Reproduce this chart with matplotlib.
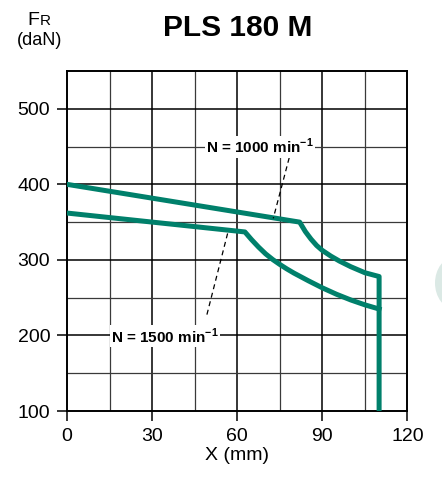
import numpy as np
import matplotlib
matplotlib.use('Agg')
import matplotlib.pyplot as plt
from matplotlib.patches import Ellipse

plt.rcParams['font.family'] = ['Liberation Sans', 'DejaVu Sans']

# N = 1000 min-1 (upper curve)
x_1000 = [0, 82, 84, 86, 88, 90, 93, 96, 100, 105, 110, 110]
y_1000 = [400, 350, 337.5, 327.5, 319, 312.5, 305, 298.5, 291, 283, 278, 100]
# N = 1500 min-1 (lower curve)
x_1500 = [0, 62.7, 65, 67.5, 70, 72.5, 75, 77.5, 80, 85, 90, 95, 100, 105, 110]
y_1500 = [362, 337, 327, 317, 308, 300.5, 294, 288, 282.5, 272.5, 263, 254.5, 247, 240.5, 235]

xticks = [0, 30, 60, 90, 120]
yticks = [100, 200, 300, 400, 500]

teal = '#00806b'

fig = plt.figure(figsize=(4.42, 4.84), dpi=100)
ax = fig.add_axes([0.1516, 0.1508, 0.7703, 0.7025])

ax.set_xlim(0, 120)
ax.set_ylim(100, 550)

# grid
for gx in np.arange(15, 120, 15):
    major = gx % 30 == 0
    ax.axvline(gx, color='black' if major else '#3a3a3a', lw=1.1 if major else 0.9, zorder=1)
for gy in np.arange(150, 550, 50):
    major = gy % 100 == 0
    ax.axhline(gy, color='black' if major else '#3a3a3a', lw=1.1 if major else 0.9, zorder=1)

ax.plot(x_1000, y_1000, color=teal, lw=3.6, solid_joinstyle='round', zorder=3)
ax.plot(x_1500, y_1500, color=teal, lw=3.6, solid_joinstyle='round', zorder=3)

# leader lines
ax.plot([78.3, 72.7], [435, 355], color='black', lw=0.9, ls=(0, (4, 3)), zorder=4)
ax.plot([56.6, 49.0], [335, 223], color='black', lw=0.9, ls=(0, (4, 3)), zorder=4)

box = dict(facecolor='white', edgecolor='none', pad=1.0)
ax.text(68, 450, 'N = 1000 min$^{\\mathregular{-1}}$', ha='center', va='center',
        fontsize=11, fontweight='bold', bbox=box, zorder=5)
ax.text(34.5, 199, 'N = 1500 min$^{\\mathregular{-1}}$', ha='center', va='center',
        fontsize=11, fontweight='bold', bbox=box, zorder=5)

ax.set_xticks(xticks)
ax.set_yticks(yticks)
ax.tick_params(direction='out', length=7, width=1.1, labelsize=14, pad=5, color='black')
for s in ax.spines.values():
    s.set_linewidth(1.4)

ax.set_xlabel('X (mm)', fontsize=14, labelpad=2)

fig.text(0.538, 0.942, 'PLS 180 M', ha='center', va='center', fontsize=21.5, fontweight='bold')
fig.text(0.062, 0.958, 'F', ha='left', va='center', fontsize=14)
fig.text(0.090, 0.956, 'R', ha='left', va='center', fontsize=11)
fig.text(0.090, 0.917, '(daN)', ha='center', va='center', fontsize=13)

fig.add_artist(Ellipse((455 / 442, 1 - 283 / 484), 40 / 442, 52 / 484,
                       transform=fig.transFigure, facecolor='#dbe9e5', edgecolor='none'))

fig.savefig('out.png', dpi=100)
